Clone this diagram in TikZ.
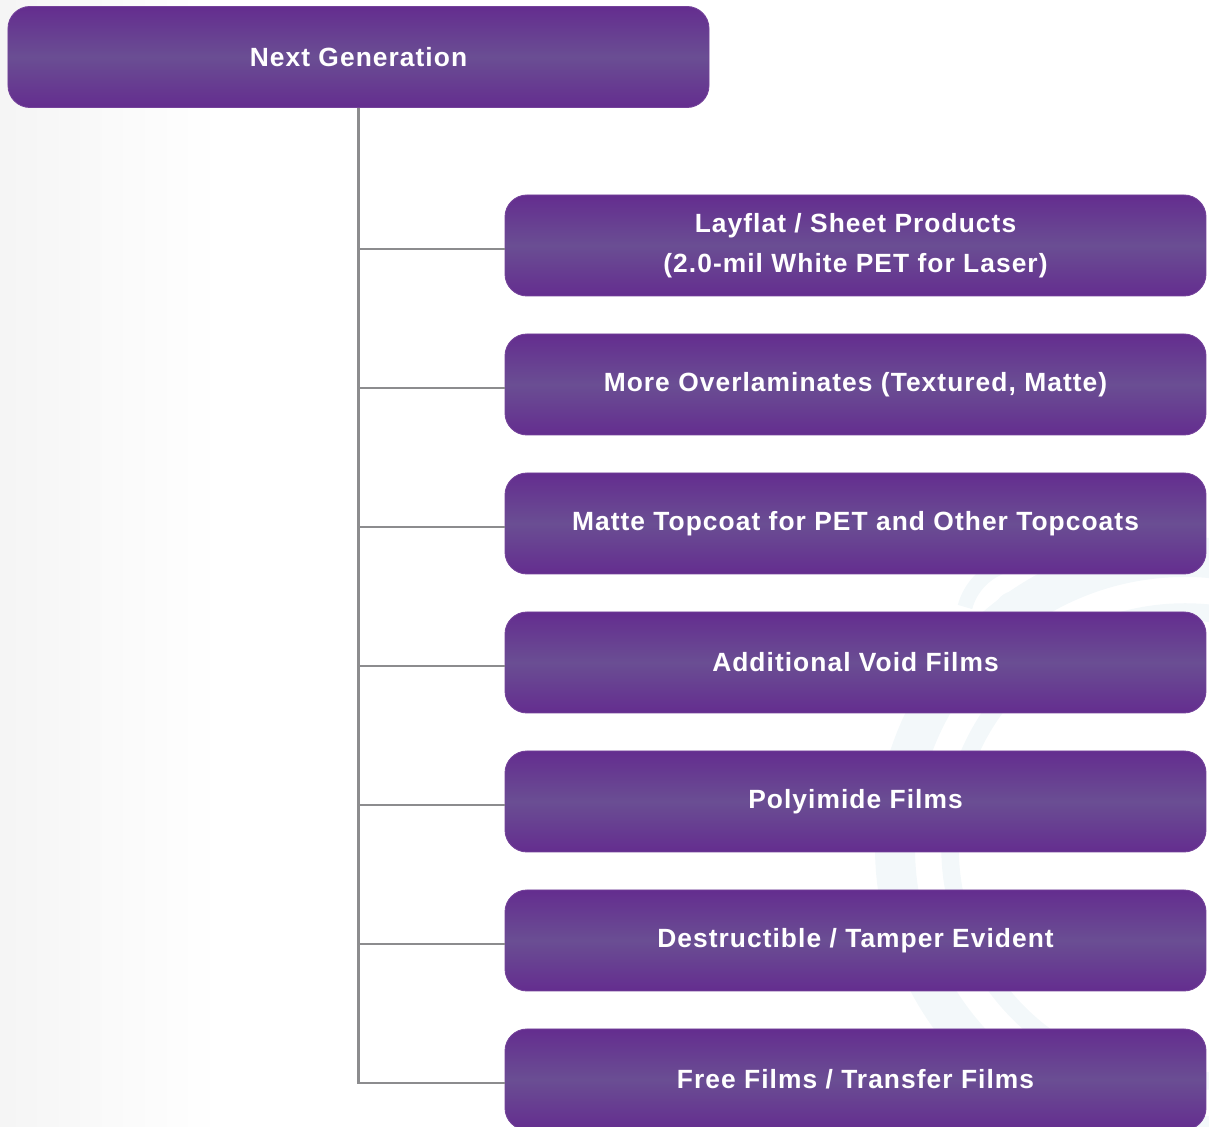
\documentclass[tikz,border=0pt]{standalone}
\usepackage{fontspec}
\setmainfont{Liberation Sans}[LetterSpace=4]
\usepackage{tikz}
\usetikzlibrary{positioning}

\definecolor{boxdark}{HTML}{642D8F}
\definecolor{boxmid}{HTML}{6A4E93}
\definecolor{trunkgray}{HTML}{8C8C8E}
\definecolor{markblue}{HTML}{F3F8FA}

\tikzset{
  gen/.style={rounded corners=0.44cm, minimum width=14.02cm, minimum height=2.02cm,
    top color=boxdark, bottom color=boxdark, middle color=boxmid,
    draw=boxdark!90!white, line width=0.5pt, text=white, align=center,
    font=\fontsize{15}{22.7}\selectfont\bfseries},
  branch/.style={draw=trunkgray, line width=1.6pt}
}

\begin{document}
\begin{tikzpicture}
\useasboundingbox (0,0) rectangle (24.18,22.54);

% background
\shade[left color=black!4, right color=white] (0,0) rectangle (4.4,22.54);
\begin{scope}[markblue]
\draw[line width=0.8cm] (23.7,5.6) circle (5.8cm);
\draw[line width=0.35cm] (23.7,5.6) circle (4.7cm);
\draw[line width=0.3cm] (19.3,10.4) arc (165:40:1.2cm);
\fill (20.3,10.3) circle (0.42cm);
\end{scope}

% boxes
\node[gen] (top) at (7.17,21.40) {Next Generation};
\node[gen] (sheet) at (17.11,17.63) {Layflat / Sheet Products\\(2.0-mil White PET for Laser)};
\node[gen] (over) at (17.11,14.85) {More Overlaminates (Textured, Matte)};
\node[gen] (topcoat) at (17.11,12.07) {Matte Topcoat for PET and Other Topcoats};
\node[gen] (void) at (17.11,9.29) {Additional Void Films};
\node[gen] (poly) at (17.11,6.51) {Polyimide Films};
\node[gen] (tamper) at (17.11,3.73) {Destructible / Tamper Evident};
\node[gen] (free) at (17.11,0.95) {Free Films / Transfer Films};

% tree lines
\begin{scope}[branch]
\draw (top.south) |- ([yshift=-0.07cm]free.west);
\draw (top.south |- sheet.west) ++(0,-0.07) -- ([yshift=-0.07cm]sheet.west);
\draw (top.south |- over.west) ++(0,-0.07) -- ([yshift=-0.07cm]over.west);
\draw (top.south |- topcoat.west) ++(0,-0.07) -- ([yshift=-0.07cm]topcoat.west);
\draw (top.south |- void.west) ++(0,-0.07) -- ([yshift=-0.07cm]void.west);
\draw (top.south |- poly.west) ++(0,-0.07) -- ([yshift=-0.07cm]poly.west);
\draw (top.south |- tamper.west) ++(0,-0.07) -- ([yshift=-0.07cm]tamper.west);
\end{scope}
\end{tikzpicture}
\end{document}
